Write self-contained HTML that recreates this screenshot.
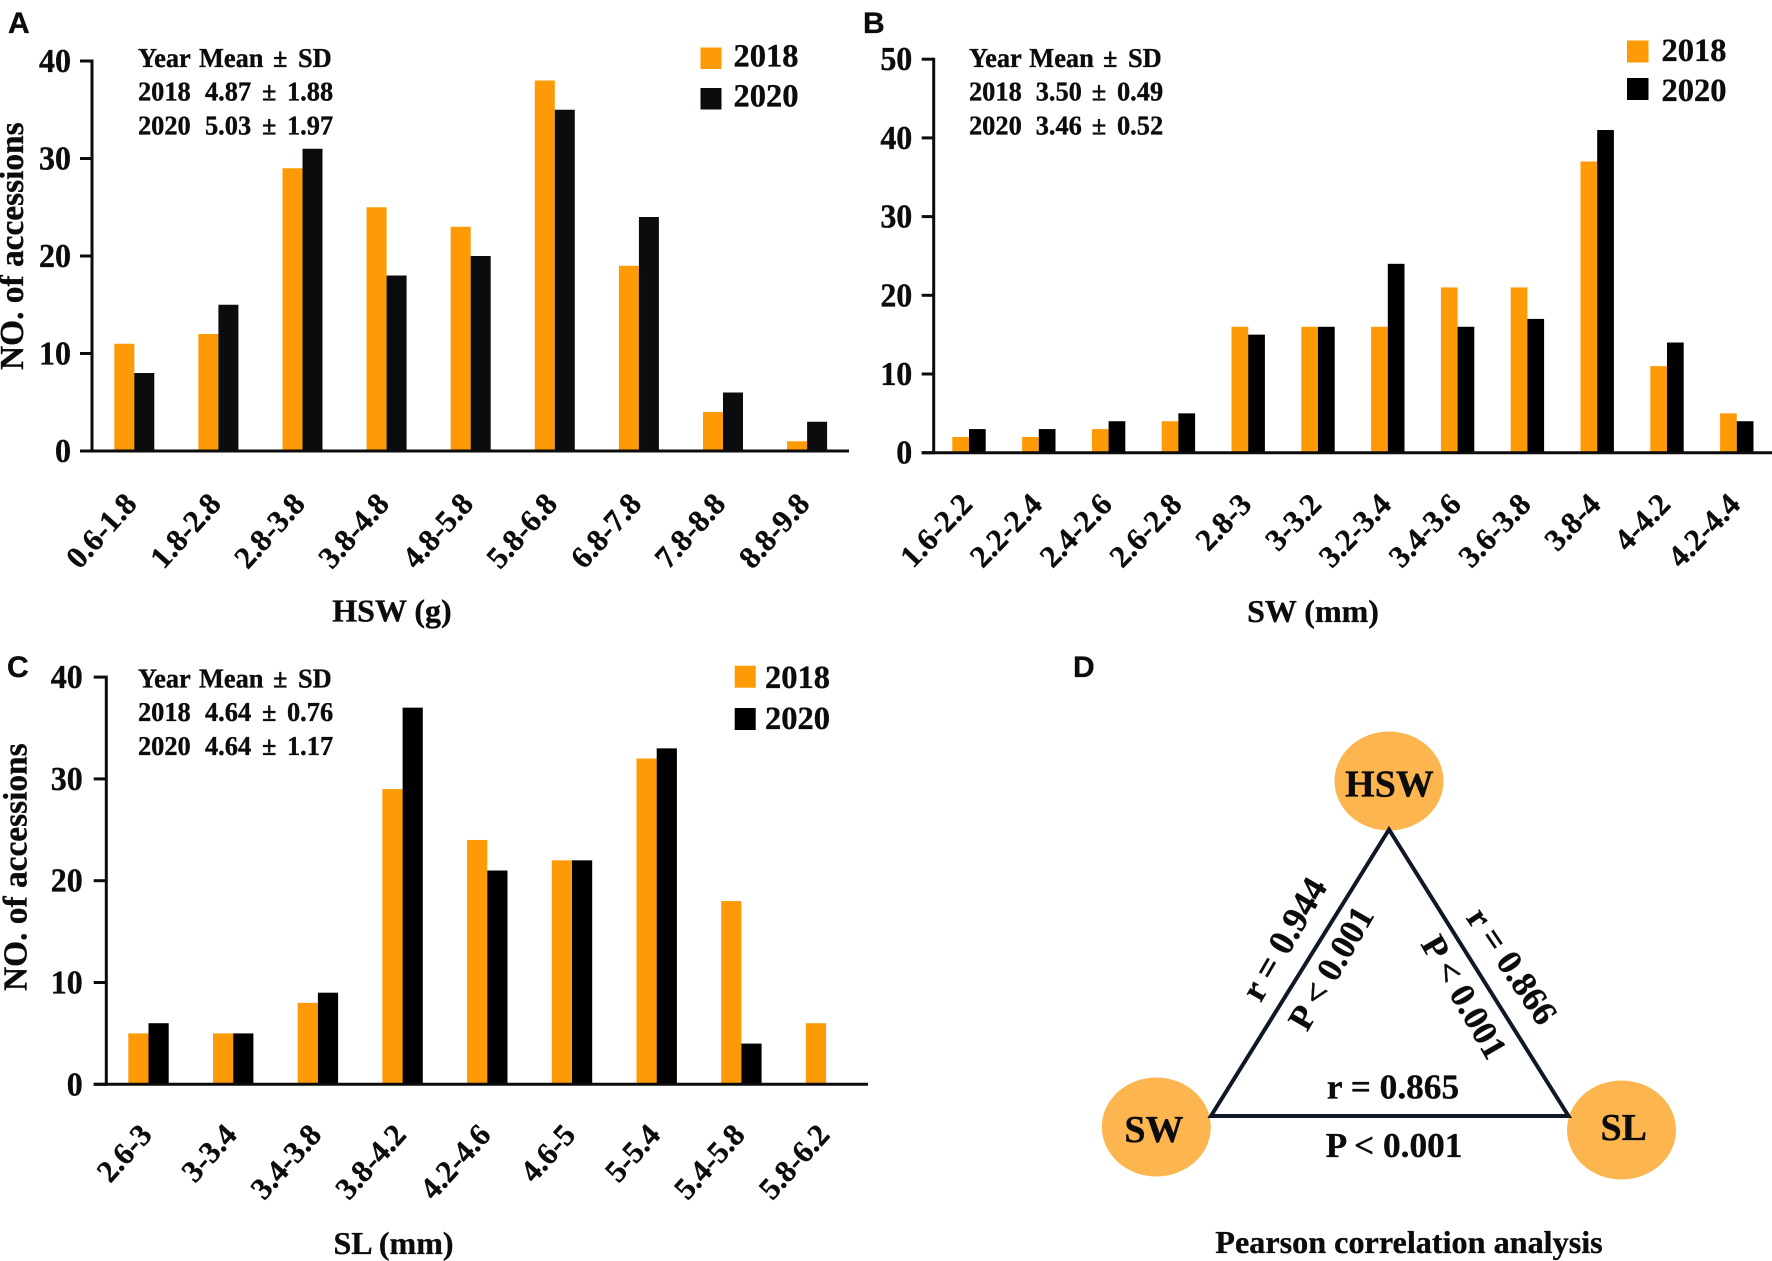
<!DOCTYPE html>
<html lang="en">
<head>
<meta charset="utf-8">
<title>Seed trait distributions and correlation</title>
<style>
  html, body { margin: 0; padding: 0; background: #fff; }
  svg { display: block; }
  text { font-family: "Liberation Serif", serif; font-weight: bold; fill: #0c0c0c; stroke: #0c0c0c; stroke-width: 0.35px; }
  .panel-letter { font-family: "Liberation Sans", sans-serif; font-size: 30px; }
  .stat { font-size: 26.4px; }
  .legend { font-size: 32.5px; }
  .ytitle { font-size: 33.4px; }
  .xtitle { font-size: 32px; }
  .ytick { font-size: 32px; text-anchor: end; }
  .xtick { font-size: 31px; text-anchor: end; }
  .corr { font-size: 35.3px; text-anchor: middle; }
  .corr-p { font-size: 35px; text-anchor: middle; }
  .node { font-size: 38px; text-anchor: middle; }
</style>
</head>
<body>
<svg id="fig" xmlns="http://www.w3.org/2000/svg" width="1772" height="1261" viewBox="0 0 1772 1261">
  <rect x="0" y="0" width="1772" height="1261" fill="#fff"/>

  <text class="panel-letter" x="8" y="33">A</text>
  <text class="panel-letter" x="863" y="33">B</text>
  <text class="panel-letter" x="7" y="677">C</text>
  <text class="panel-letter" x="1073" y="677">D</text>

  <g id="panel-a">
    <text class="ytitle" transform="translate(23,370) rotate(-90)">NO. of accessions</text>
    <text class="xtitle" x="392" y="621.5" text-anchor="middle">HSW (g)</text>
    <g>
      <text class="stat" transform="translate(0,67) scale(1,1.05)"><tspan x="138">Year</tspan><tspan x="199">Mean</tspan><tspan x="273">±</tspan><tspan x="298">SD</tspan></text>
      <text class="stat" transform="translate(0,100.7) scale(1,1.05)"><tspan x="138">2018</tspan><tspan x="205">4.87</tspan><tspan x="262">±</tspan><tspan x="287">1.88</tspan></text>
      <text class="stat" transform="translate(0,134.3) scale(1,1.05)"><tspan x="138">2020</tspan><tspan x="205">5.03</tspan><tspan x="262">±</tspan><tspan x="287">1.97</tspan></text>
    </g>
    <g>
      <rect x="700.5" y="47.5" width="21" height="21.5" fill="#fe9a05"/>
      <text class="legend" x="733.5" y="66.5">2018</text>
      <rect x="700.5" y="88" width="21" height="21.5" fill="#0b0c0e"/>
      <text class="legend" x="733.5" y="106.5">2020</text>
    </g>
  </g>

  <g id="panel-b">
    <text class="xtitle" x="1313" y="622" text-anchor="middle">SW (mm)</text>
    <g>
      <text class="stat" transform="translate(0,67) scale(1,1.05)"><tspan x="969">Year</tspan><tspan x="1029.3">Mean</tspan><tspan x="1103">±</tspan><tspan x="1128">SD</tspan></text>
      <text class="stat" transform="translate(0,100.7) scale(1,1.05)"><tspan x="969">2018</tspan><tspan x="1035.7">3.50</tspan><tspan x="1091.7">±</tspan><tspan x="1117">0.49</tspan></text>
      <text class="stat" transform="translate(0,134.3) scale(1,1.05)"><tspan x="969">2020</tspan><tspan x="1035.7">3.46</tspan><tspan x="1091.7">±</tspan><tspan x="1117">0.52</tspan></text>
    </g>
    <g>
      <rect x="1627" y="40.5" width="21.5" height="22" fill="#fe9a05"/>
      <text class="legend" x="1661.5" y="61">2018</text>
      <rect x="1627" y="78" width="21.5" height="22" fill="#000"/>
      <text class="legend" x="1661.5" y="101">2020</text>
    </g>
  </g>

  <g id="panel-c">
    <text class="ytitle" transform="translate(26.7,991) rotate(-90)">NO. of accessions</text>
    <text class="xtitle" x="393.5" y="1254" text-anchor="middle">SL (mm)</text>
    <g>
      <text class="stat" transform="translate(0,687.3) scale(1,1.05)"><tspan x="138">Year</tspan><tspan x="199">Mean</tspan><tspan x="273">±</tspan><tspan x="298">SD</tspan></text>
      <text class="stat" transform="translate(0,721) scale(1,1.05)"><tspan x="138">2018</tspan><tspan x="205">4.64</tspan><tspan x="262">±</tspan><tspan x="287">0.76</tspan></text>
      <text class="stat" transform="translate(0,755) scale(1,1.05)"><tspan x="138">2020</tspan><tspan x="205">4.64</tspan><tspan x="262">±</tspan><tspan x="287">1.17</tspan></text>
    </g>
    <g>
      <rect x="734.7" y="665.7" width="21" height="22" fill="#fe9a05"/>
      <text class="legend" x="765" y="688">2018</text>
      <rect x="734.7" y="708" width="21" height="22" fill="#000"/>
      <text class="legend" x="765" y="729">2020</text>
    </g>
  </g>

  <g id="panel-d">
    <ellipse cx="1389" cy="781" rx="54.5" ry="49.5" fill="#fdb54f"/>
    <ellipse cx="1156.3" cy="1127" rx="54.5" ry="49.5" fill="#fdb54f"/>
    <ellipse cx="1621.5" cy="1130" rx="54.5" ry="49.5" fill="#fdb54f"/>
    <polygon points="1389,829.5 1211,1116 1568.5,1116" fill="none" stroke="#101828" stroke-width="4"/>
    <text class="node" x="1389.5" y="796.4">HSW</text>
    <text class="node" x="1154" y="1142">SW</text>
    <text class="node" x="1623.7" y="1140">SL</text>
    <text class="corr" transform="translate(1294.3,945) rotate(-60)" style="font-size:36px">r = 0.944</text>
    <text class="corr-p" transform="translate(1341,973.8) rotate(-60)">P &lt; 0.001</text>
    <text class="corr" transform="translate(1502.4,972.5) rotate(56)">r = 0.866</text>
    <text class="corr-p" transform="translate(1454,1002.8) rotate(60)">P &lt; 0.001</text>
    <text class="corr" x="1393" y="1098.6">r = 0.865</text>
    <text class="corr" x="1394" y="1157">P &lt; 0.001</text>
    <text x="1409" y="1253" text-anchor="middle" font-size="32.2">Pearson correlation analysis</text>
  </g>
</svg>

<script>
var categoriesA = ["0.6-1.8", "1.8-2.8", "2.8-3.8", "3.8-4.8", "4.8-5.8", "5.8-6.8", "6.8-7.8", "7.8-8.8", "8.8-9.8"];
var values2018A = [11, 12, 29, 25, 23, 38, 19, 4, 1];
var values2020A = [8, 15, 31, 18, 20, 35, 24, 6, 3];
var ticksA = [0, 10, 20, 30, 40];

var categoriesB = ["1.6-2.2", "2.2-2.4", "2.4-2.6", "2.6-2.8", "2.8-3", "3-3.2", "3.2-3.4", "3.4-3.6", "3.6-3.8", "3.8-4", "4-4.2", "4.2-4.4"];
var values2018B = [2, 2, 3, 4, 16, 16, 16, 21, 21, 37, 11, 5];
var values2020B = [3, 3, 4, 5, 15, 16, 24, 16, 17, 41, 14, 4];
var ticksB = [0, 10, 20, 30, 40, 50];

var categoriesC = ["2.6-3", "3-3.4", "3.4-3.8", "3.8-4.2", "4.2-4.6", "4.6-5", "5-5.4", "5.4-5.8", "5.8-6.2"];
var values2018C = [5, 5, 8, 29, 24, 22, 32, 18, 6];
var values2020C = [6, 5, 9, 37, 21, 22, 33, 4, 0];
var ticksC = [0, 10, 20, 30, 40];

var SVG_NS = "http://www.w3.org/2000/svg";

function make(parent, tag, attrs, content) {
  var el = document.createElementNS(SVG_NS, tag);
  for (var k in attrs) { el.setAttribute(k, attrs[k]); }
  if (content !== undefined) { el.textContent = content; }
  parent.appendChild(el);
  return el;
}

function drawChart(id, categories, s2018, s2020, ticks, g) {
  var root = document.getElementById(id);
  function yScale(v) { return g.y0 - v * g.unit; }
  function xScale(i) { return g.x0 + i * g.step; }

  for (var i = 0; i < categories.length; i++) {
    var x = xScale(i);
    var a = make(root, "rect", { x: x, y: yScale(s2018[i]), width: g.barW, height: g.y0 - yScale(s2018[i]), fill: "#fe9a05" });
    
    
    var b = make(root, "rect", { x: x + g.barW, y: yScale(s2020[i]), width: g.barW, height: g.y0 - yScale(s2020[i]), fill: g.black });
    
    
    var px = x + g.barW + g.labelDx;
    var lab = make(root, "text", { "class": "xtick", transform: "translate(" + px + "," + g.labelY + ") rotate(" + g.labelAngle + ")" }, categories[i]);
    
    
  }

  var yAxis = make(root, "line", { x1: g.axisX, x2: g.axisX, y1: yScale(ticks[ticks.length - 1]) - 1.5, y2: g.y0 + 1.5, stroke: "#0c0c0c", "stroke-width": 3 });
  
  
  var xAxis = make(root, "line", { x1: g.tickX, x2: g.axisEnd, y1: g.y0, y2: g.y0, stroke: "#0c0c0c", "stroke-width": 3 });
  
  

  for (var t = 0; t < ticks.length; t++) {
    var ty = yScale(ticks[t]);
    var mark = make(root, "line", { x1: g.tickX, x2: g.axisX, y1: ty, y2: ty, stroke: "#0c0c0c", "stroke-width": 3 });
    
    
    var tl = make(root, "text", { "class": "ytick", transform: "translate(" + g.tickLabelX + "," + (ty + 11) + ") scale(1,1.05)" }, String(ticks[t]));
    
    
  }
}

drawChart("panel-a", categoriesA, values2018A, values2020A, ticksA, {
  y0: 451, unit: 9.75, x0: 114.3, step: 84.1, barW: 20, axisX: 92, tickX: 80, axisEnd: 849,
  tickLabelX: 71, labelDx: 4, labelY: 505, labelAngle: -48, black: "#0b0c0e"
});
drawChart("panel-b", categoriesB, values2018B, values2020B, ticksB, {
  y0: 452.7, unit: 7.87, x0: 952.3, step: 69.8, barW: 16.7, axisX: 933.7, tickX: 921.7, axisEnd: 1772,
  tickLabelX: 912.3, labelDx: 5, labelY: 506, labelAngle: -46, black: "#000"
});
drawChart("panel-c", categoriesC, values2018C, values2020C, ticksC, {
  y0: 1084.3, unit: 10.18, x0: 128.3, step: 84.7, barW: 20.2, axisX: 106.3, tickX: 93.7, axisEnd: 868,
  tickLabelX: 82.7, labelDx: 5, labelY: 1136, labelAngle: -48, black: "#000"
});
</script>
</body>
</html>
